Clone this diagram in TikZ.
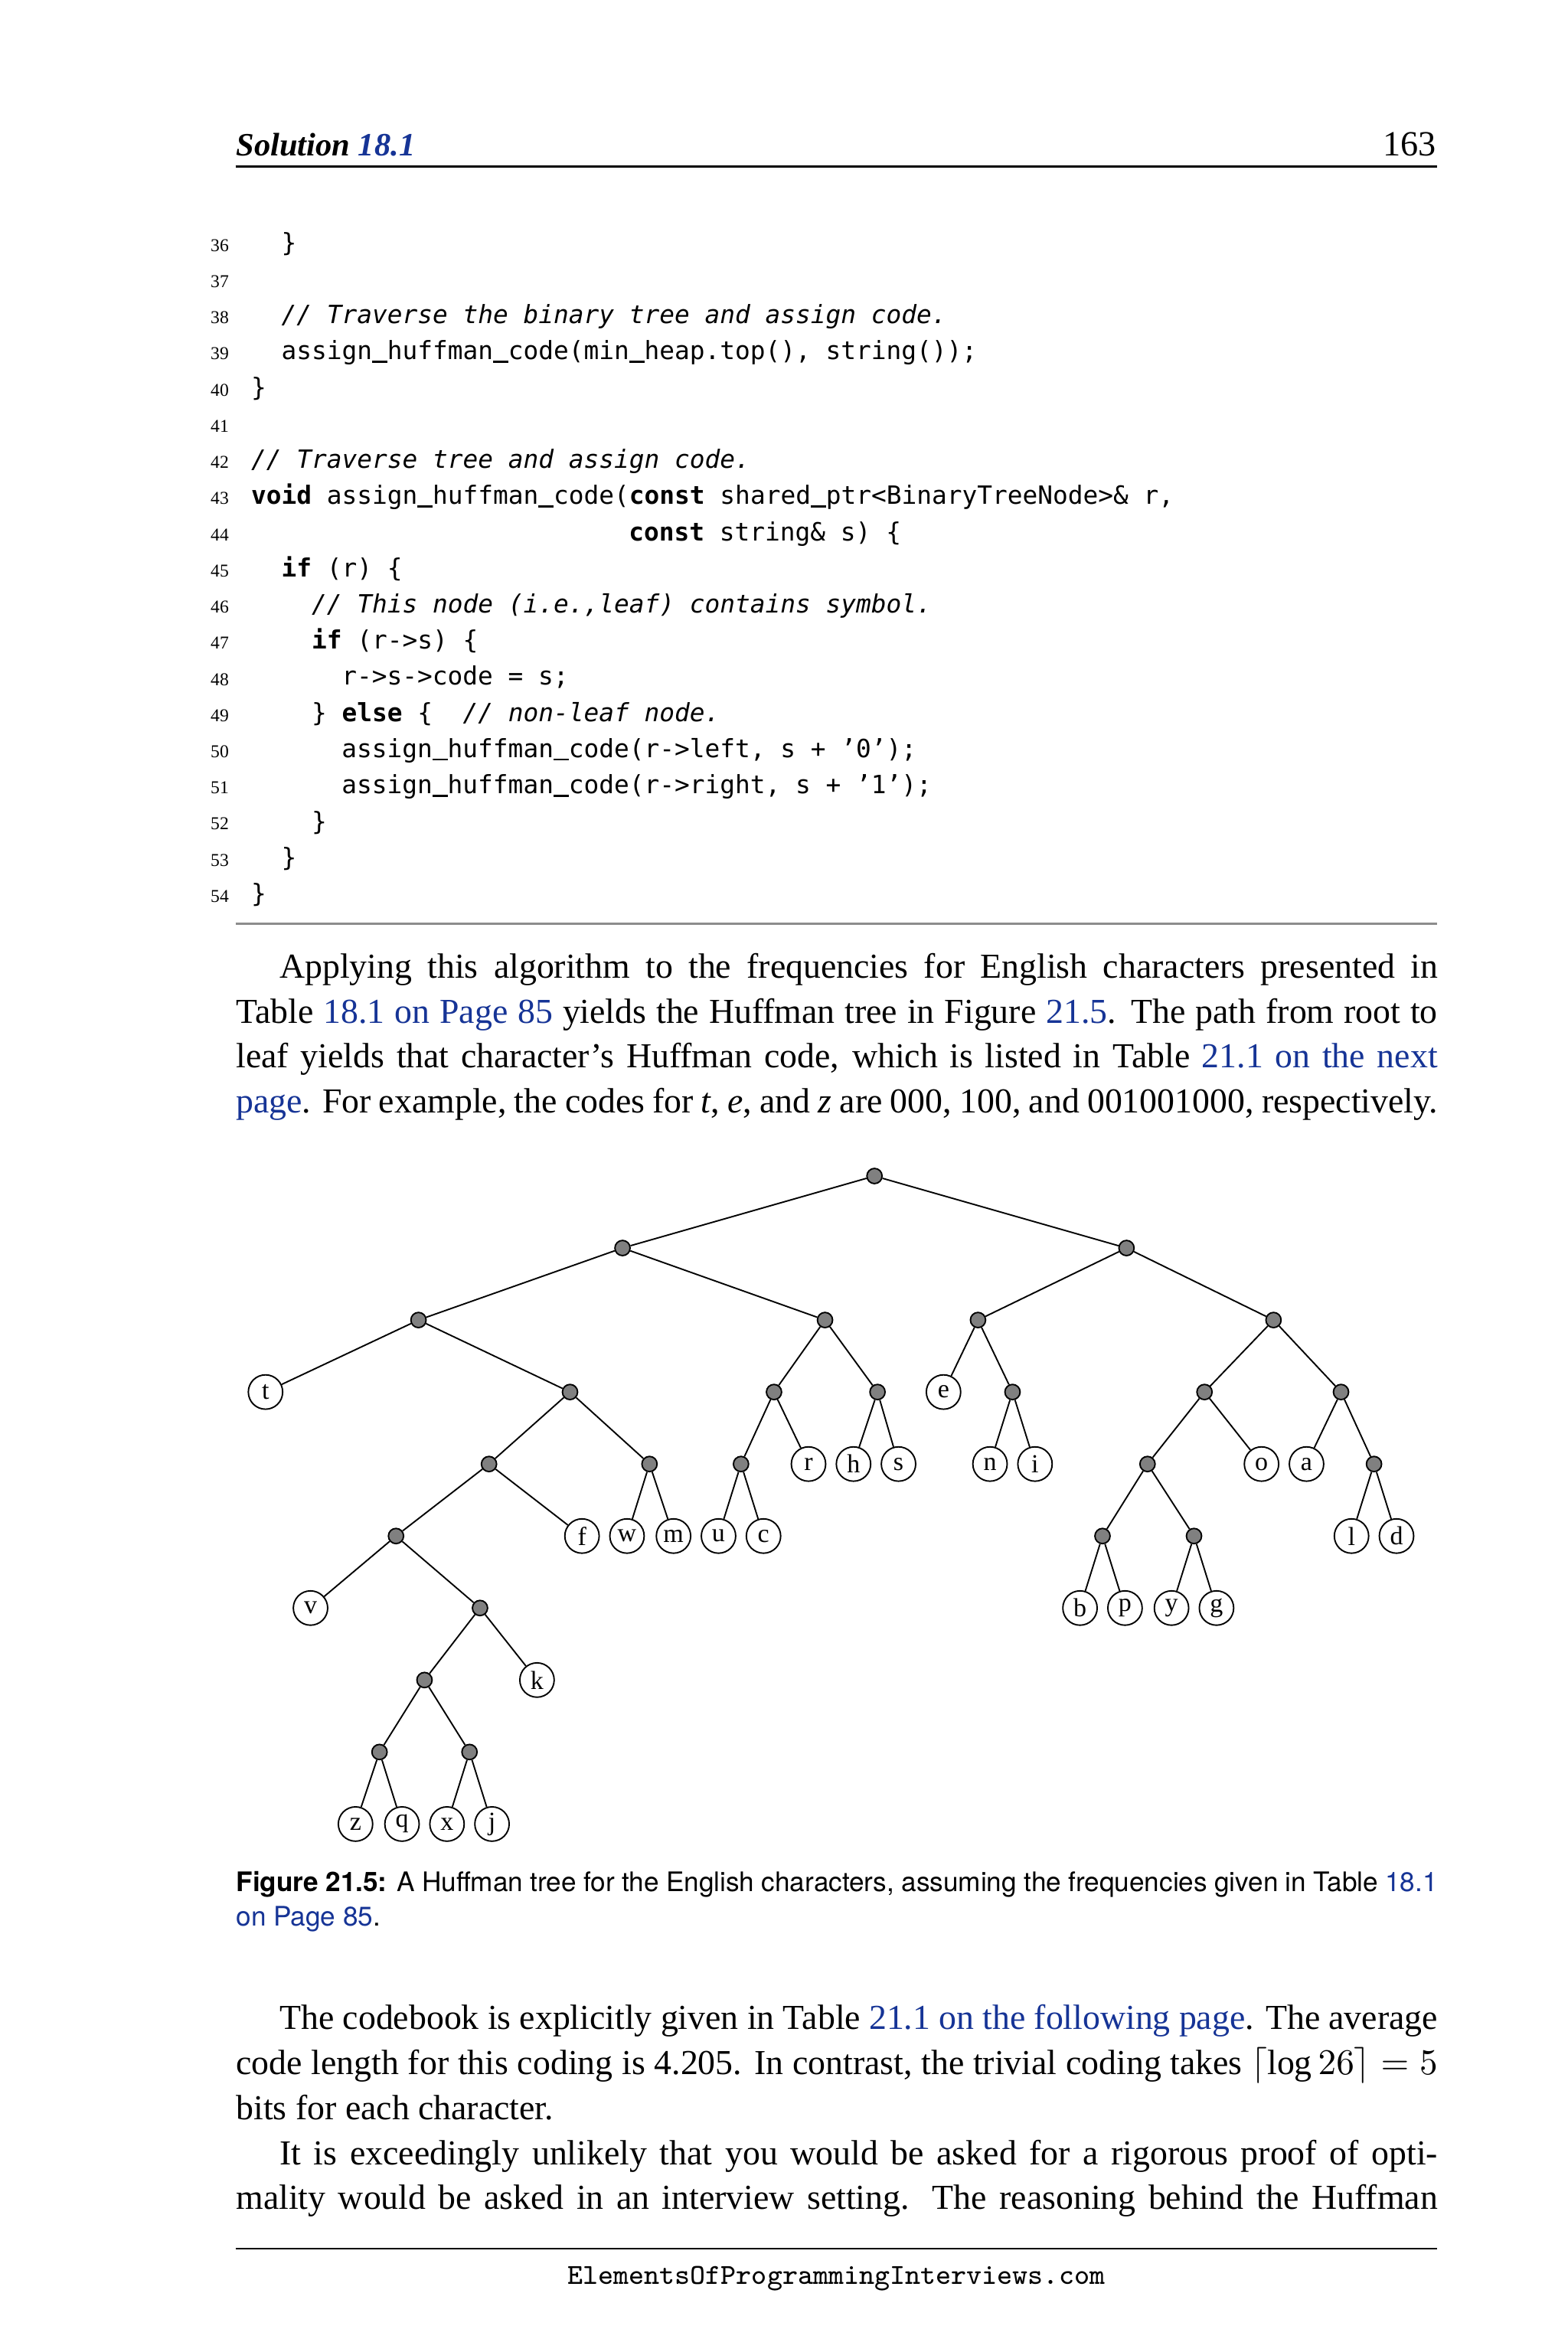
\documentclass[tikz,border=0pt]{standalone}
\usepackage{fontspec}
\setmainfont{Liberation Serif}
\newfontfamily\codefont{DejaVu Sans Mono}
\newfontfamily\capfont{TeX Gyre Heros}
\definecolor{linkblue}{RGB}{22,52,150}
\newcommand\lnk[1]{\textcolor{linkblue}{#1}}
\newcommand\us{\makebox[0.602em][l]{\rule[-0.8pt]{0.602em}{0.5pt}}}
\newcommand\fullline[1]{\makebox[332.4pt][s]{#1}}
\newcommand\indline[1]{\makebox[320.4pt][s]{#1}}
\begin{document}
\begin{tikzpicture}[x=0.415pt, y=-0.415pt]
            \tikzset{
                body/.style={anchor=base west, inner sep=0, font=\fontsize{9.7}{11}\selectfont},
                codeline/.style={anchor=base west, inner sep=0, font=\codefont\fontsize{6.95}{8}\selectfont},
                lnum/.style={anchor=base east, inner sep=0, font=\fontsize{5}{6}\selectfont},
                capline/.style={anchor=base west, inner sep=0, font=\capfont\fontsize{7.45}{9}\selectfont},
                joint/.style={draw, circle, fill=black!50, line width=0.4pt, minimum size=4.2pt, inner sep=0},
                leaf/.style={draw, circle, fill=white, line width=0.4pt, minimum size=9.5pt, inner sep=0, font=\fontsize{7.2}{8}\selectfont},
                branch/.style={-, line width=0.4pt}
            }
            \fill[white] (0,0) rectangle (1045,1568);
            \useasboundingbox (0,0) rectangle (1045,1568);

            \draw node[body, font=\fontsize{9}{11}\selectfont\bfseries\itshape] (head) at (157,104) {Solution \lnk{18.1}};
            \draw node[body, anchor=base east, font=\fontsize{9.8}{11}\selectfont] (pageno) at (958,104) {163};
            \draw[line width=0.8pt] (157,111) -- (958,111);

            \foreach \n in {36,...,54}{
            \draw node[lnum] (ln\n) at (153, {167.5+(\n-36)*24.11}) {\n};
            }
            \draw node[codeline] (src36) at (187.1,167.5) {\}};
            \draw node[codeline] (src38) at (187.1,215.7) {\textit{// Traverse the binary tree and assign code.}};
            \draw node[codeline] (src39) at (187.1,239.8) {assign\us huffman\us code(min\us heap.top(), string());};
            \draw node[codeline] (src40) at (167,263.9) {\}};
            \draw node[codeline] (src42) at (167,312.2) {\textit{// Traverse tree and assign code.}};
            \draw node[codeline] (src43) at (167,336.3) {\textbf{void} assign\us huffman\us code(\textbf{const} shared\us ptr<BinaryTreeNode>\& r,};
            \draw node[codeline] (src44) at (418.8,360.4) {\textbf{const} string\& s) \{};
            \draw node[codeline] (src45) at (187.1,384.5) {\textbf{if} (r) \{};
            \draw node[codeline] (src46) at (207.3,408.6) {\textit{// This node (i.e.,leaf) contains symbol.}};
            \draw node[codeline] (src47) at (207.3,432.7) {\textbf{if} (r->s) \{};
            \draw node[codeline] (src48) at (227.4,456.8) {r->s->code = s;};
            \draw node[codeline] (src49) at (207.3,481.0) {\} \textbf{else} \{\ \ \textit{// non-leaf node.}};
            \draw node[codeline] (src50) at (227.4,505.1) {assign\us huffman\us code(r->left, s + ’0’);};
            \draw node[codeline] (src51) at (227.4,529.2) {assign\us huffman\us code(r->right, s + ’1’);};
            \draw node[codeline] (src52) at (207.3,553.3) {\}};
            \draw node[codeline] (src53) at (187.1,577.4) {\}};
            \draw node[codeline] (src54) at (167,601.5) {\}};
            \draw[black!45, line width=0.6pt] (157,616) -- (958,616);

            \draw node[body] (para1a) at (186,652) {\indline{Applying this algorithm to the frequencies for English characters presented in}};
            \draw node[body] (para1b) at (157,682) {\fullline{Table \lnk{18.1 on Page 85} yields the Huffman tree in Figure \lnk{21.5}. The path from root to}};
            \draw node[body] (para1c) at (157,712) {\fullline{leaf yields that character’s Huffman code, which is listed in Table \lnk{21.1 on the next}}};
            \draw node[body] (para1d) at (157,742) {\fullline{\lnk{page}. For example, the codes for \textit{t}, \textit{e}, and \textit{z} are 000, 100, and 001001000, respectively.}};

            \foreach \nm/\x/\y in {root/583/784, c0/415/832, c1/751/832,
                c00/279/880, c01/550/880, c10/652/880, c11/849/880,
                c001/380/928, c010/516/928, c011/585/928, c101/675/928, c110/803/928, c111/894/928,
                c0010/326/976, c0011/433/976, c0100/494/976, c1100/765/976, c1111/916/976,
                c00100/264/1024, c11000/735/1024, c11001/796/1024,
                c001001/320/1072, c0010010/283/1120, c00100100/253/1168, c00100101/313/1168}{
            \draw node[joint] (\nm) at (\x,\y) {};
            }
            \foreach \nm/\x/\y in {t/177/928, e/629/928,
                r/539/976, h/569/976, s/599/976, n/660/976, i/690/976, o/841/976, a/871/976,
                f/388/1024, w/418/1024, m/449/1024, u/479/1024, c/509/1024, l/901/1024, d/931/1024,
                v/207/1072, b/720/1072, p/750/1072, y/781/1072, g/811/1072,
                k/358/1120, z/237/1216, q/268/1216, x/298/1216, j/328/1216}{
            \draw node[leaf] (\nm) at (\x,\y) {\nm};
            }
            \foreach \x/\y in {%
                root/c0, root/c1, c0/c00, c0/c01, c1/c10, c1/c11,
                c00/t, c00/c001, c01/c010, c01/c011, c10/e, c10/c101, c11/c110, c11/c111,
                c001/c0010, c001/c0011, c010/c0100, c010/r, c011/h, c011/s, c101/n, c101/i,
                c110/c1100, c110/o, c111/a, c111/c1111,
                c0010/c00100, c0010/f, c0011/w, c0011/m, c0100/u, c0100/c,
                c1100/c11000, c1100/c11001, c1111/l, c1111/d,
                c00100/v, c00100/c001001, c11000/b, c11000/p, c11001/y, c11001/g,
                c001001/c0010010, c001001/k, c0010010/c00100100, c0010010/c00100101,
                c00100100/z, c00100100/q, c00100101/x, c00100101/j%
            }{
            \draw (\x) edge[branch] (\y);
            }

            \draw node[capline] (cap1) at (157,1261) {\fullline{\textbf{Figure 21.5:} A Huffman tree for the English characters, assuming the frequencies given in Table \lnk{18.1}}};
            \draw node[capline] (cap2) at (157,1284) {\lnk{on Page 85}.};

            \draw node[body] (para2a) at (186,1353) {\indline{The codebook is explicitly given in Table \lnk{21.1 on the following page}. The average}};
            \draw node[body] (para2b) at (157,1383) {\fullline{code length for this coding is 4.205. In contrast, the trivial coding takes $\lceil\log 26\rceil = 5$}};
            \draw node[body] (para2c) at (157,1413) {bits for each character.};
            \draw node[body] (para2d) at (186,1443) {\indline{It is exceedingly unlikely that you would be asked for a rigorous proof of opti-}};
            \draw node[body] (para2e) at (157,1473) {\fullline{mality would be asked in an interview setting. The reasoning behind the Huffman}};

            \draw[line width=0.5pt] (157,1499) -- (958,1499);
            \draw node[anchor=base, inner sep=0, font=\ttfamily\fontsize{8}{9}\selectfont] (site) at (557.5,1523) {ElementsOfProgrammingInterviews.com};
        \end{tikzpicture}
\end{document}
